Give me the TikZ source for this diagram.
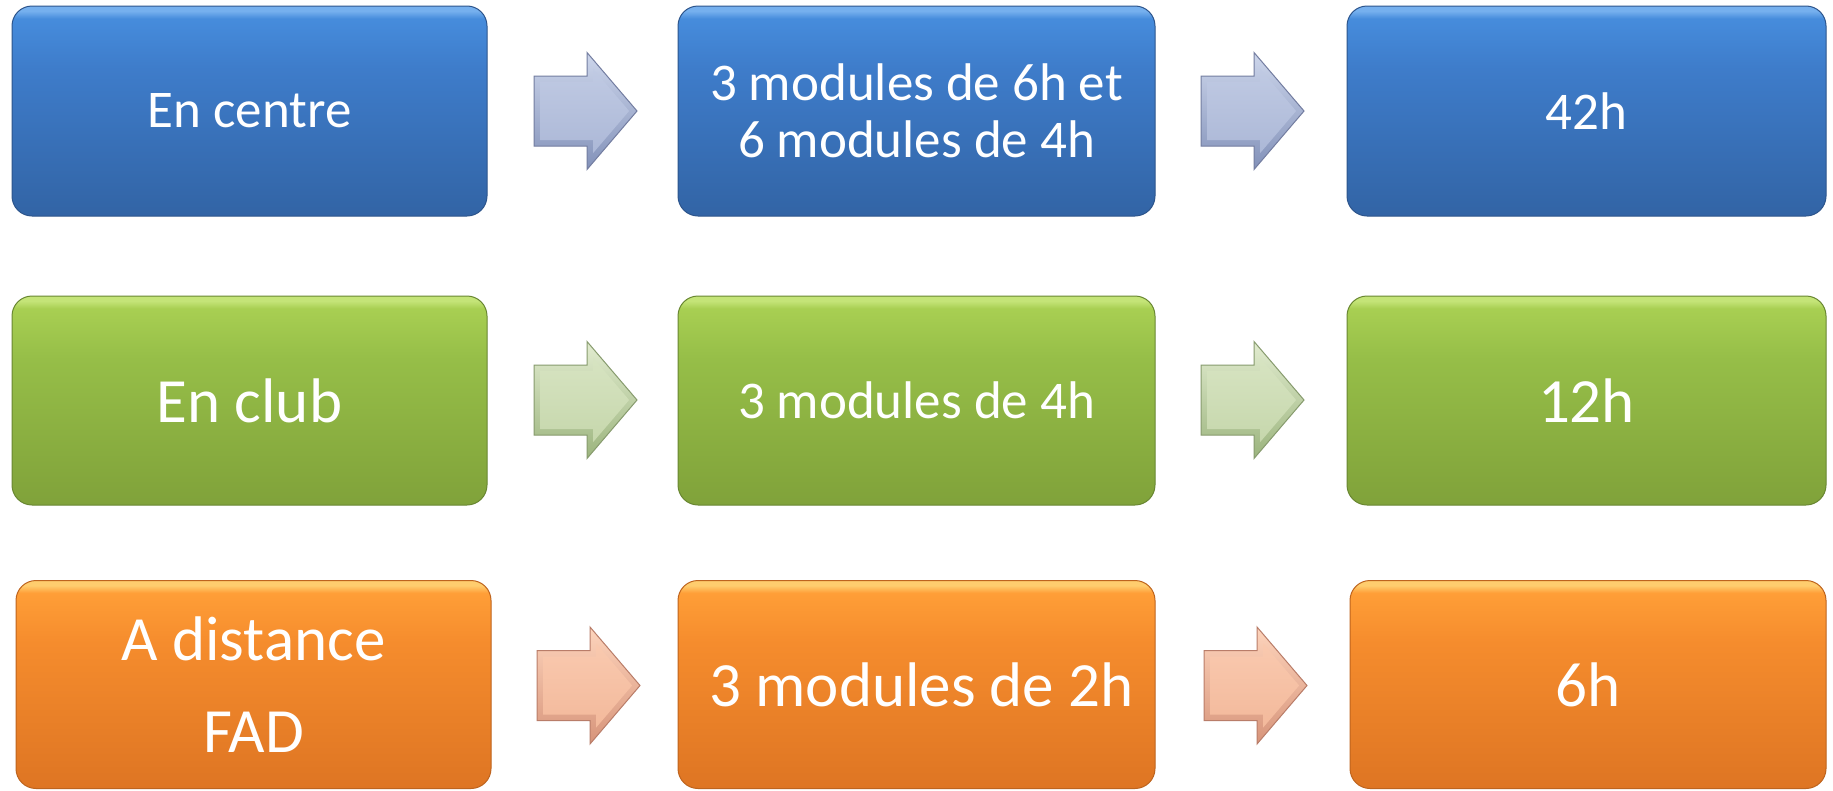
\documentclass[tikz,border=0pt]{standalone}
\usepackage{fontspec}
\setmainfont{Carlito}
% box colours
\definecolor{bTop}{RGB}{118,176,238}
\definecolor{bHi}{RGB}{70,140,220}
\definecolor{bMid}{RGB}{62,124,202}
\definecolor{bBot}{RGB}{50,100,165}
\definecolor{bLine}{RGB}{45,85,140}
\definecolor{gTop}{RGB}{196,228,120}
\definecolor{gHi}{RGB}{168,207,82}
\definecolor{gMid}{RGB}{150,190,72}
\definecolor{gBot}{RGB}{128,162,58}
\definecolor{gLine}{RGB}{105,135,50}
\definecolor{oTop}{RGB}{255,205,110}
\definecolor{oHi}{RGB}{255,158,55}
\definecolor{oMid}{RGB}{245,140,45}
\definecolor{oBot}{RGB}{222,117,35}
\definecolor{oLine}{RGB}{190,100,30}
% arrow colours
\definecolor{baTop}{RGB}{205,214,235}
\definecolor{baFace}{RGB}{172,184,215}
\definecolor{baBot}{RGB}{130,145,185}
\definecolor{baLine}{RGB}{115,125,160}
\definecolor{gaTop}{RGB}{226,236,208}
\definecolor{gaFace}{RGB}{198,215,172}
\definecolor{gaBot}{RGB}{155,180,125}
\definecolor{gaLine}{RGB}{135,155,110}
\definecolor{oaTop}{RGB}{253,212,188}
\definecolor{oaFace}{RGB}{243,185,155}
\definecolor{oaBot}{RGB}{215,148,122}
\definecolor{oaLine}{RGB}{185,125,105}
\pgfdeclareverticalshading{blueface}{100bp}{color(0bp)=(bBot); color(25bp)=(bBot); color(60bp)=(bMid); color(72bp)=(bHi); color(73.8bp)=(bTop); color(75bp)=(bTop); color(100bp)=(bTop)}
\pgfdeclareverticalshading{greenface}{100bp}{color(0bp)=(gBot); color(25bp)=(gBot); color(60bp)=(gMid); color(72bp)=(gHi); color(73.8bp)=(gTop); color(75bp)=(gTop); color(100bp)=(gTop)}
\pgfdeclareverticalshading{orangeface}{100bp}{color(0bp)=(oBot); color(25bp)=(oBot); color(60bp)=(oMid); color(72bp)=(oHi); color(73.8bp)=(oTop); color(75bp)=(oTop); color(100bp)=(oTop)}
\tikzset{
  box/.style={rectangle, rounded corners=20pt, line width=1pt, text=white,
    align=center, inner sep=0pt},
  bluebox/.style={box, shading=blueface, draw=bLine},
  greenbox/.style={box, shading=greenface, draw=gLine},
  orangebox/.style={box, shading=orangeface, draw=oLine},
  smalltxt/.style={font=\fontsize{53}{57}\selectfont},
  bigtxt/.style={font=\fontsize{63}{92}\selectfont},
  blueout/.style={top color=baTop, bottom color=baBot, draw=baLine, line width=1pt},
  bluein/.style={top color=baTop!60!baFace, bottom color=baFace},
  greenout/.style={top color=gaTop, bottom color=gaBot, draw=gaLine, line width=1pt},
  greenin/.style={top color=gaTop!60!gaFace, bottom color=gaFace},
  orangeout/.style={top color=oaTop, bottom color=oaBot, draw=oaLine, line width=1pt},
  orangein/.style={top color=oaTop!60!oaFace, bottom color=oaFace},
}
\newcommand\blockarrow[5]{%
  \begin{scope}[shift={(#2,#3)}]
    \coordinate (#1) at (0,0);
    \path[#4] (-51.5,-35) -- (1.5,-35) -- (1.5,-58.5) -- (51.5,0) -- (1.5,58.5) -- (1.5,35) -- (-51.5,35) -- cycle;
    \path[#5] (-45.5,-29) -- (7.5,-29) -- (7.5,-42.2) -- (43.6,0) -- (7.5,42.2) -- (7.5,29) -- (-45.5,29) -- cycle;
  \end{scope}}
\begin{document}
\begin{tikzpicture}[x=1pt, y=-1pt]
\useasboundingbox (0,0) rectangle (1833,790);
\fill[white] (0,0) rectangle (1833,790);
% row 1
\node[bluebox, smalltxt, minimum width=475pt, minimum height=210pt] (centre) at (249.5,111) {En centre};
\node[bluebox, smalltxt, minimum width=477pt, minimum height=210pt] (centremod) at (916.5,111) {3 modules de 6h et\\6 modules de 4h};
\node[bluebox, smalltxt, minimum width=479pt, minimum height=210pt] (centreh) at (1586.5,111) {42h};
\blockarrow{a11}{585.5}{111}{blueout}{bluein}
\blockarrow{a12}{1252.5}{111}{blueout}{bluein}
% row 2
\node[greenbox, bigtxt, minimum width=475pt, minimum height=209pt] (club) at (249.5,400.5) {En club};
\node[greenbox, smalltxt, minimum width=477pt, minimum height=209pt] (clubmod) at (916.5,400.5) {3 modules de 4h};
\node[greenbox, bigtxt, minimum width=479pt, minimum height=209pt] (clubh) at (1586.5,400.5) {12h};
\blockarrow{a21}{585.5}{400}{greenout}{greenin}
\blockarrow{a22}{1252.5}{400}{greenout}{greenin}
% row 3
\node[orangebox, bigtxt, minimum width=475pt, minimum height=208pt] (fad) at (253.5,684.5) {A distance\\FAD};
\node[orangebox, bigtxt, minimum width=477pt, minimum height=208pt] (fadmod) at (916.5,684.5) {\hspace*{10pt}3 modules de 2h};
\node[orangebox, bigtxt, minimum width=476pt, minimum height=208pt] (fadh) at (1588,684.5) {6h};
\blockarrow{a31}{588.5}{685.5}{orangeout}{orangein}
\blockarrow{a32}{1255.5}{685.5}{orangeout}{orangein}
\end{tikzpicture}
\end{document}
